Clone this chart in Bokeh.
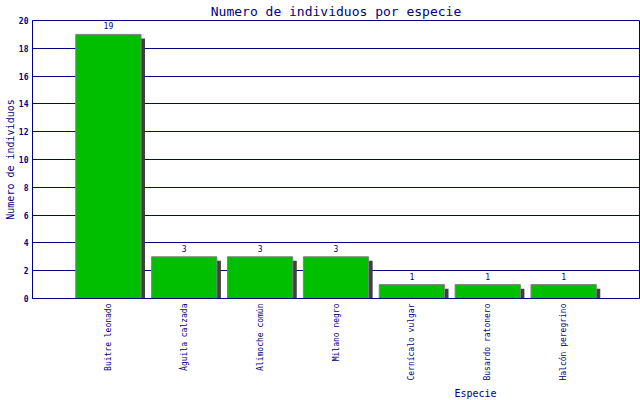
import math
from bokeh.plotting import figure
from bokeh.models import Range1d, FixedTicker, Title, ColumnDataSource
from bokeh.transform import dodge
from bokeh.core.properties import value
from bokeh.embed import file_html
from bokeh.resources import INLINE

categories = ["Buitre leonado", "Águila calzada", "Alimoche común", "Milano negro",
              "Cernícalo vulgar", "Busardo ratonero", "Halcón peregrino"]
counts = [19, 3, 3, 3, 1, 1, 1]
y_ticks = [0, 2, 4, 6, 8, 10, 12, 14, 16, 18, 20]

title_text = "Numero de individuos por especie"
x_title = "Especie"
y_title = "Numero de individuos"

NAVY = "#000080"
MONO = "DejaVu Sans Mono"

positions = list(range(1, len(categories) + 1))
src = ColumnDataSource(dict(x=positions, top=counts, label=[str(c) for c in counts]))

p = figure(width=640, height=400, output_backend="svg", toolbar_location=None,
           x_range=Range1d(0, len(categories) + 1), y_range=Range1d(0, 20),
           min_border_left=32, min_border_right=1, min_border_top=20, min_border_bottom=102)
p.background_fill_color = "white"
p.border_fill_color = "white"
p.outline_line_color = NAVY
p.outline_line_width = 1

# title
p.title.text = title_text
p.title.align = "center"
p.title.text_font = MONO
p.title.text_font_size = "13px"
p.title.text_font_style = "normal"
p.title.text_color = NAVY
p.title.standoff = 3
p.title.vertical_align = "bottom"

# grid
p.xgrid.visible = False
p.ygrid.ticker = FixedTicker(ticks=y_ticks)
p.ygrid.grid_line_color = NAVY
p.ygrid.grid_line_width = 1

# shadows then bars
p.vbar(x=dodge("x", 0.053), top=dodge("top", -0.29), bottom=0, width=0.86, source=src,
       fill_color="#404040", line_color=None)
p.vbar(x="x", top="top", bottom=0, width=0.86, source=src,
       fill_color="#00bf00", line_color="#808080", line_width=1)

# value labels
p.text(x="x", y="top", text="label", source=src, text_align="center", text_baseline="bottom",
       y_offset=-5, text_font=value(MONO), text_font_size="8px", text_color=NAVY)

# axes
xa = p.xaxis[0]
xa.ticker = FixedTicker(ticks=positions)
xa.major_label_overrides = {pos: cat for pos, cat in zip(positions, categories)}
xa.major_label_orientation = math.pi / 2
xa.major_label_standoff = 5
xa.major_label_text_font = MONO
xa.major_label_text_font_size = "8px"
xa.major_label_text_color = NAVY
xa.major_tick_out = 0
xa.major_tick_in = 0
xa.minor_tick_out = 0
xa.minor_tick_in = 0
xa.axis_line_color = NAVY

ya = p.yaxis[0]
ya.ticker = FixedTicker(ticks=y_ticks)
ya.major_label_standoff = 4
ya.major_label_text_font = MONO
ya.major_label_text_font_size = "8px"
ya.major_label_text_font_style = "bold"
ya.major_label_text_color = NAVY
ya.major_tick_out = 0
ya.major_tick_in = 0
ya.minor_tick_out = 0
ya.minor_tick_in = 0
ya.axis_line_color = NAVY
ya.axis_label = y_title
ya.axis_label_standoff = 0
ya.axis_label_text_font = MONO
ya.axis_label_text_font_size = "10px"
ya.axis_label_text_font_style = "normal"
ya.axis_label_text_color = NAVY

# x-axis title, offset toward the right as in the reference
p.add_layout(Title(text=x_title, align="left", offset=422, text_font=MONO,
                   text_font_size="10px", text_font_style="normal", text_color=NAVY,
                   standoff=4), "below")

open("out.html", "w").write(file_html(p, INLINE))
